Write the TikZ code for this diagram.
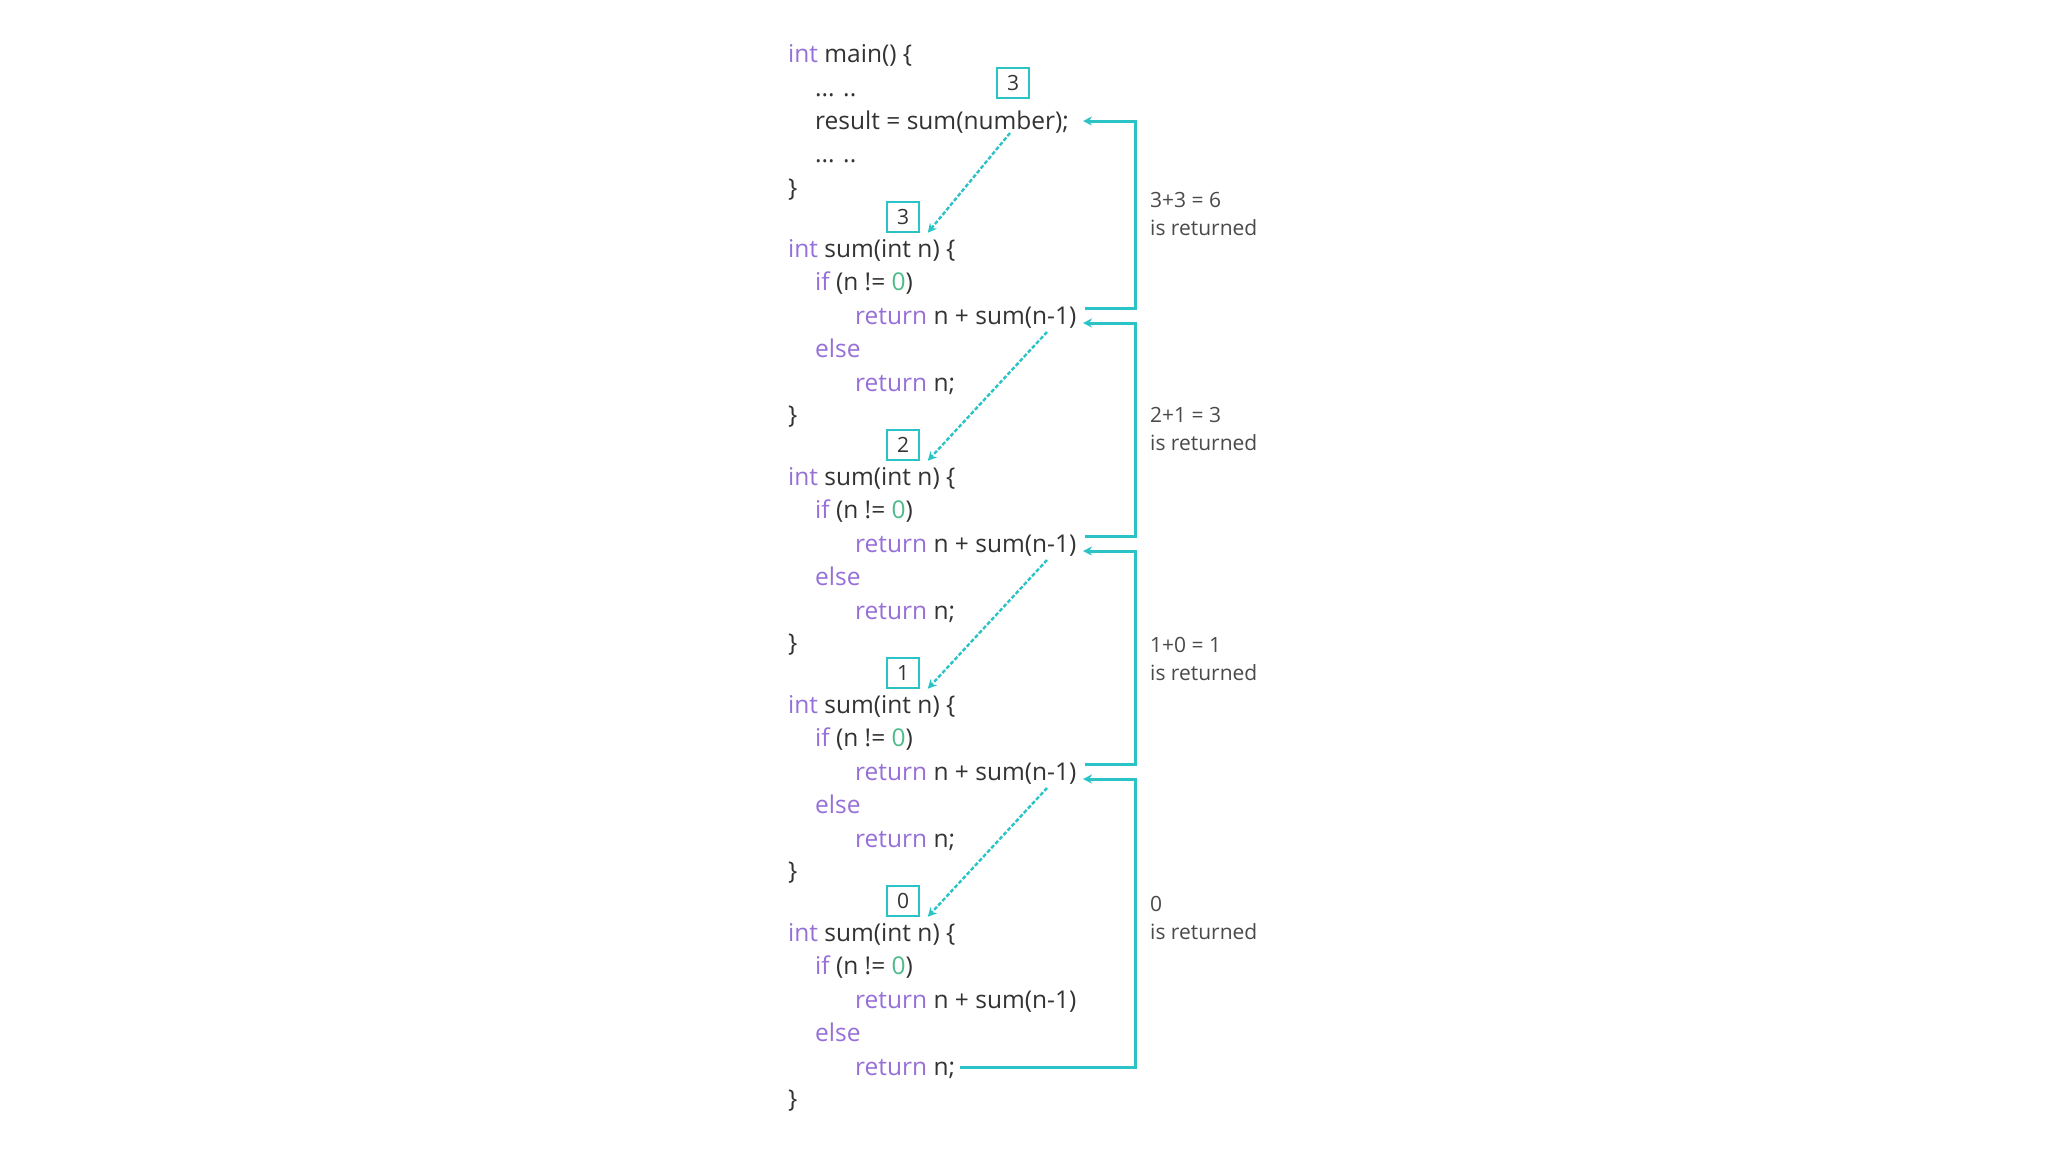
\documentclass[tikz,border=0pt]{standalone}
\usepackage{fontspec}
\setmainfont{Open Sans}
\usetikzlibrary{arrows.meta}
\definecolor{kw}{HTML}{9670D8}
\definecolor{num}{HTML}{4DBB8C}
\definecolor{txt}{HTML}{333333}
\definecolor{lbl}{HTML}{4A4A4A}
\definecolor{cy}{HTML}{2CC3C6}
\newcommand\kwd[1]{\textcolor{kw}{#1}}
\begin{document}
\begin{tikzpicture}[x=1pt,y=-1pt,
  code/.style={anchor=base west, inner sep=0pt, font=\fontsize{24.5}{30}\selectfont, text=txt},
  numbox/.style={draw=cy, line width=1.5pt, minimum width=32pt, minimum height=30pt, inner sep=0pt, font=\fontsize{21}{25}\selectfont, text=txt},
  lab/.style={anchor=base west, inner sep=0pt, align=left, font=\fontsize{21}{28}\selectfont, text=lbl},
  ret/.style={draw=cy, line width=3pt, -{Stealth[length=9pt,width=9pt]}},
  call/.style={draw=cy, line width=2.4pt, dash pattern=on 4pt off 2pt, -{Stealth[length=9pt,width=9pt]}}]
\fill[white] (0,0) rectangle (2048,1152);
\useasboundingbox (0,0) rectangle (2048,1152);
% main
\node[code] (m1) at (788,62) {\kwd{int} main() \{};
\node[code] (m2) at (815,96) {... ..};
\node[code] (m3) at (815,129) {result = sum(number);};
\node[code] (m4) at (815,162) {... ..};
\node[code] (m5) at (788,196) {\}};
\node[numbox] (top) at (1013,83) {3};
% blocks
\foreach \i in {0,...,3}{
  \pgfmathsetmacro\yz{248+228*\i}
  \pgfmathtruncatemacro\v{3-\i}
  \node[numbox] (bx\i) at (903,\yz-31) {\v};
  \node[code] (s\i-a) at (788,\yz+9) {\kwd{int} sum(int n) \{};
  \node[code] (s\i-b) at (815,\yz+42) {\kwd{if} (n != \textcolor{num}{0})};
  \node[code] (s\i-c) at (855,\yz+76) {\kwd{return} n + sum(n-1)};
  \node[code] (s\i-d) at (815,\yz+109) {\kwd{else}};
  \node[code] (s\i-e) at (855,\yz+143) {\kwd{return} n;};
  \node[code] (s\i-f) at (788,\yz+175) {\}};
  \pgfmathsetmacro\R{315+228*\i}
  \coordinate (out\i) at (1085,\R-7);
  \coordinate (in\i) at (1083,\R+8);
  \coordinate (cs\i) at (1047,\R+17);
}
\coordinate (mainin) at (1083,121);
\coordinate (maincall) at (1010,133);
\coordinate (lastout) at (960,1067);
% labels
\node[lab] (l0) at (1150,235) {3+3 = 6\\is returned};
\node[lab] (l1) at (1150,450) {2+1 = 3\\is returned};
\node[lab] (l2) at (1150,680) {1+0 = 1\\is returned};
\node[lab] (l3) at (1150,939) {0\\is returned};
% return paths
\draw[ret] (out0) -- ++(50,0) |- (mainin);
\draw[ret] (out1) -- ++(50,0) |- (in0);
\draw[ret] (out2) -- ++(50,0) |- (in1);
\draw[ret] (lastout) -- (1135,1067) |- (in2);
% call arrows
\draw[call] (maincall) -- ([xshift=8pt]bx0.south east);
\draw[call] (cs0) -- ([xshift=8pt]bx1.south east);
\draw[call] (cs1) -- ([xshift=8pt]bx2.south east);
\draw[call] (cs2) -- ([xshift=8pt]bx3.south east);
\end{tikzpicture}
\end{document}
